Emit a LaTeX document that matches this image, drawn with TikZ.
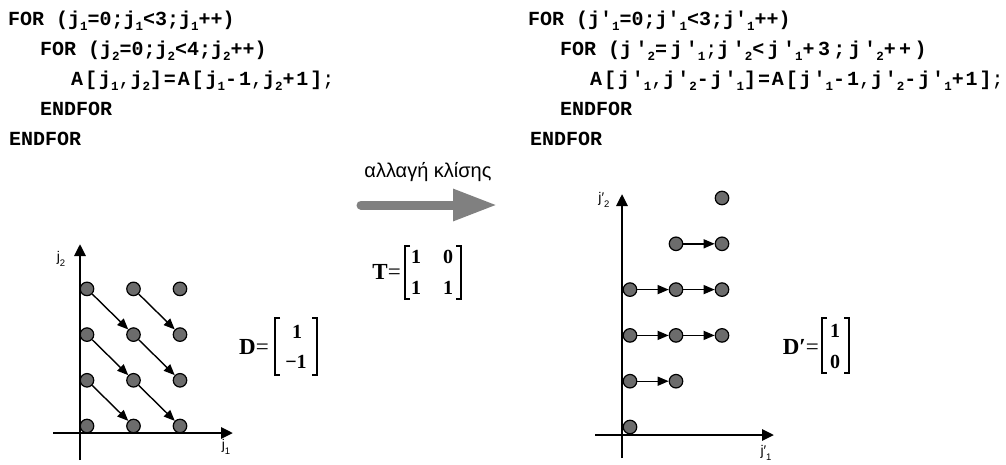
\documentclass[tikz,border=0pt]{standalone}
\usepackage{fontspec}
\setmainfont{Liberation Serif}
\setmonofont{Liberation Mono}
\newfontfamily\sansfont{Liberation Sans}
\usetikzlibrary{arrows.meta}
\definecolor{dotgray}{RGB}{108,108,108}
\definecolor{arrowgray}{RGB}{128,128,128}
\newcommand\sbs[1]{\raisebox{-0.25em}{\fontsize{12.5}{12.5}\selectfont #1}}
\newcommand\thn[1]{{\mdseries #1}}
\newcommand\axsub[1]{\raisebox{-0.3em}{\fontsize{9.5}{9.5}\selectfont #1}}
\begin{document}
\begin{tikzpicture}[x=1pt,y=-1pt,
  code/.style={anchor=base west, inner sep=0pt, font=\ttfamily\bfseries\fontsize{20}{20}\selectfont},
  dot/.style={circle, draw=black, fill=dotgray, line width=1.2pt, minimum size=13.5pt, inner sep=0pt},
  dep/.style={-{Triangle[length=11pt,width=9pt]}, line width=1.4pt},
  axis/.style={line width=2.8pt, -{Triangle[length=12pt,width=11pt]}},
  axlab/.style={inner sep=0pt, font=\sansfont\fontsize{14}{14}\selectfont},
  mlab/.style={inner sep=0pt, font=\fontsize{23}{23}\selectfont},
  ment/.style={inner sep=0pt, font=\bfseries\fontsize{20}{20}\selectfont},
  brk/.style={line width=1.2pt}]
\useasboundingbox (0,0) rectangle (1006,464);

% code, left
\node[code] (l1) at (8,25) {FOR (j\sbs{1}=0;j\sbs{1}<3;j\sbs{1}++)};
\node[code] (l2) at (40,55) {FOR (j\sbs{2}=0;j\sbs{2}<4;j\sbs{2}++)};
\node[code] (l3) at (71,85) {\addfontfeatures{LetterSpace=9.5}A[j\sbs{1}\thn{,}j\sbs{2}]=A[j\sbs{1}-1\thn{,}j\sbs{2}+1]\thn{;}};
\node[code] (l4) at (40,115) {ENDFOR};
\node[code] (l5) at (9,145) {ENDFOR};

% code, right
\node[code] (r1) at (528,25) {FOR (j'\sbs{1}=0;j'\sbs{1}<3;j'\sbs{1}++)};
\node[code] (r2) at (560,55) {FOR ({\addfontfeatures{LetterSpace=17}j'\sbs{2}=j'\sbs{1}\thn{;}j'\sbs{2}<j'\sbs{1}+3;j'\sbs{2}++)}};
\node[code] (r3) at (590,85) {\addfontfeatures{LetterSpace=9.5}A[j'\sbs{1}\thn{,}j'\sbs{2}-j'\sbs{1}]=A[j'\sbs{1}-1\thn{,}j'\sbs{2}-j'\sbs{1}+1]\thn{;}};
\node[code] (r4) at (560,115) {ENDFOR};
\node[code] (r5) at (530,145) {ENDFOR};

% transformation arrow
\node[font=\sansfont\fontsize{20}{20}\selectfont] (lbl) at (428,172) {αλλαγή κλίσης};
\coordinate (ga) at (361,205);
\coordinate (gb) at (497,205);
\draw[line width=9pt, arrowgray, line cap=round, -{Triangle[length=44pt,width=30pt]}] (ga) -- (gb);

% T matrix
\node[mlab, anchor=east] (T) at (401,272) {\textbf{T}=};
\node[ment] (t11) at (416,257) {1};
\node[ment] (t12) at (448,257) {0};
\node[ment] (t21) at (416,288) {1};
\node[ment] (t22) at (448,288) {1};
\draw[brk] (410,246) -- (405,246) -- (405,299) -- (410,299);
\draw[brk] (456,246) -- (461,246) -- (461,299) -- (456,299);

% left lattice
\coordinate (la0) at (80,460); \coordinate (la1) at (80,244);
\coordinate (lb0) at (53,433); \coordinate (lb1) at (233,433);
\draw[axis] (la0) -- (la1);
\draw[axis] (lb0) -- (lb1);
\node[axlab] (lj2) at (61,259) {j\axsub{2}};
\node[axlab] (lj1) at (226,447) {j\axsub{1}};
\foreach \i in {0,1,2} \foreach \j in {0,1,2,3}
  \node[dot] (L\i\j) at ({87+46.5*\i},{426-45.7*\j}) {};
\foreach \a/\b in {03/12,13/22,02/11,12/21,01/10,11/20}
  \draw[dep] (L\a) -- (L\b);

% D matrix
\node[mlab, anchor=east] (D) at (269,347) {\textbf{D}=};
\node[ment] (d1) at (297,332) {1};
\node[ment] (d2) at (296,362) {−1};
\draw[brk] (280,318) -- (275,318) -- (275,375) -- (280,375);
\draw[brk] (312,318) -- (317,318) -- (317,375) -- (312,375);

% right lattice
\coordinate (ra0) at (622,458); \coordinate (ra1) at (622,194);
\coordinate (rb0) at (595,435); \coordinate (rb1) at (774,435);
\draw[axis] (ra0) -- (ra1);
\draw[axis] (rb0) -- (rb1);
\node[axlab] (rj2) at (604,200) {j′\axsub{2}};
\node[axlab] (rj1) at (766,453) {j′\axsub{1}};
\foreach \i/\j in {0/0,0/1,1/1,0/2,1/2,2/2,0/3,1/3,2/3,1/4,2/4,2/5}
  \node[dot] (R\i\j) at ({630+46*\i},{427-45.8*\j}) {};
\foreach \a/\b in {01/11,02/12,12/22,03/13,13/23,14/24}
  \draw[dep] (R\a) -- (R\b);

% D' matrix
\node[mlab, anchor=east] (Dp) at (819,347) {\textbf{D′}=};
\node[ment] (dp1) at (835,331) {1};
\node[ment] (dp2) at (835,362) {0};
\draw[brk] (827,318) -- (822,318) -- (822,373) -- (827,373);
\draw[brk] (844,318) -- (849,318) -- (849,373) -- (844,373);
\end{tikzpicture}
\end{document}
